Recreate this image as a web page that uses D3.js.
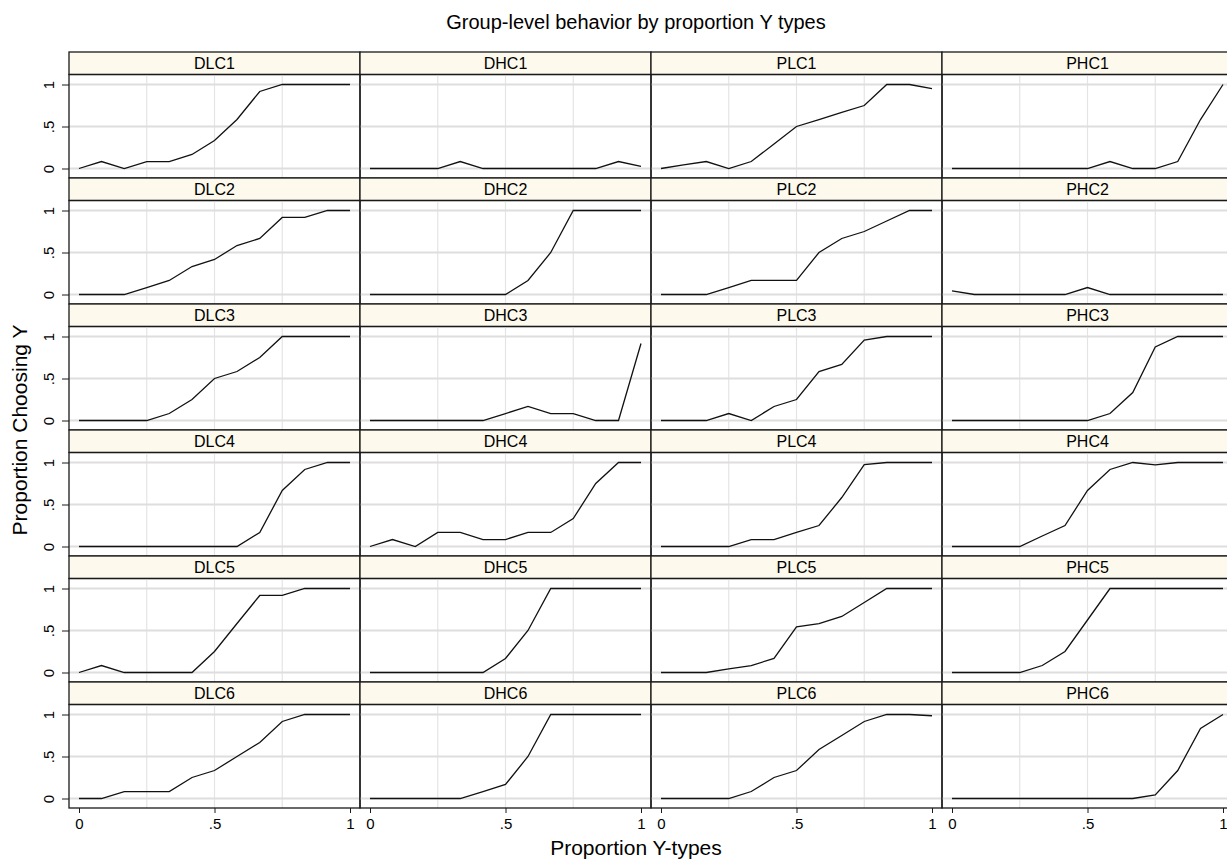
<!DOCTYPE html>
<html>
<head>
<meta charset="utf-8">
<script src="https://cdn.jsdelivr.net/npm/d3@7"></script>
<style>
  body { margin: 0; background: #fff; }
  text { font-family: "Liberation Sans", Arial, sans-serif; fill: #000; }
</style>
</head>
<body>
<div id="chart"></div>
<script>
// proportion of Y-types in the group (x axis)
const propY = [0, .083, .167, .25, .333, .417, .5, .583, .667, .75, .833, .917, 1]

const treatments = ["DLC", "DHC", "PLC", "PHC"]
const groups = [1, 2, 3, 4, 5, 6]

// proportion choosing Y, one array per panel
const DLC1 = [0, .083, 0, .083, .083, .167, .333, .583, .917, 1, 1, 1, 1]
const DHC1 = [0, 0, 0, 0, .083, 0, 0, 0, 0, 0, 0, .083, .025]
const PLC1 = [0, .042, .083, 0, .083, .292, .5, .583, .667, .75, 1, 1, .95]
const PHC1 = [0, 0, 0, 0, 0, 0, 0, .083, 0, 0, .083, .583, 1]

const DLC2 = [0, 0, 0, .083, .167, .333, .417, .583, .667, .917, .917, 1, 1]
const DHC2 = [0, 0, 0, 0, 0, 0, 0, .167, .5, 1, 1, 1, 1]
const PLC2 = [0, 0, 0, .083, .167, .167, .167, .5, .667, .75, .875, 1, 1]
const PHC2 = [.042, 0, 0, 0, 0, 0, .083, 0, 0, 0, 0, 0, 0]

const DLC3 = [0, 0, 0, 0, .083, .25, .5, .583, .75, 1, 1, 1, 1]
const DHC3 = [0, 0, 0, 0, 0, 0, .083, .167, .083, .083, 0, 0, .917]
const PLC3 = [0, 0, 0, .083, 0, .167, .25, .583, .667, .958, 1, 1, 1]
const PHC3 = [0, 0, 0, 0, 0, 0, 0, .083, .333, .875, 1, 1, 1]

const DLC4 = [0, 0, 0, 0, 0, 0, 0, 0, .167, .667, .917, 1, 1]
const DHC4 = [0, .083, 0, .167, .167, .083, .083, .167, .167, .333, .75, 1, 1]
const PLC4 = [0, 0, 0, 0, .083, .083, .167, .25, .583, .975, 1, 1, 1]
const PHC4 = [0, 0, 0, 0, .125, .25, .667, .917, 1, .972, 1, 1, 1]

const DLC5 = [0, .083, 0, 0, 0, 0, .25, .583, .917, .917, 1, 1, 1]
const DHC5 = [0, 0, 0, 0, 0, 0, .167, .5, 1, 1, 1, 1, 1]
const PLC5 = [0, 0, 0, .042, .083, .167, .542, .583, .667, .833, 1, 1, 1]
const PHC5 = [0, 0, 0, 0, .083, .25, .625, 1, 1, 1, 1, 1, 1]

const DLC6 = [0, 0, .083, .083, .083, .25, .333, .5, .667, .917, 1, 1, 1]
const DHC6 = [0, 0, 0, 0, 0, .083, .167, .5, 1, 1, 1, 1, 1]
const PLC6 = [0, 0, 0, 0, .083, .25, .333, .583, .75, .917, 1, 1, .985]
const PHC6 = [0, 0, 0, 0, 0, 0, 0, 0, 0, .042, .333, .833, 1]

const yTicks = [0, .5, 1]
const yTickLabels = ["0", ".5", "1"]
const xTicks = [0, .5, 1]
const xTickLabels = ["0", ".5", "1"]
const xGrid = [.25, .5, .75]

const series = {
    DLC1, DHC1, PLC1, PHC1, DLC2, DHC2, PLC2, PHC2,
    DLC3, DHC3, PLC3, PHC3, DLC4, DHC4, PLC4, PHC4,
    DLC5, DHC5, PLC5, PHC5, DLC6, DHC6, PLC6, PHC6,
}

function drawPanels() {
    let dimensions = {
        width: 1227,
        height: 859,
        left: 69,
        top: 52,
        panelWidth: 291,
        rowHeight: 126,
        stripHeight: 22.5,
    }
    dimensions.plotHeight = dimensions.rowHeight - dimensions.stripHeight

    const svg = d3.select("#chart").append("svg")
    svg.attr("width", dimensions.width)
    svg.attr("height", dimensions.height)

    let x = d3.scaleLinear()
    .domain([0, 1])
    .range([10, dimensions.panelWidth - 10])

    let y = d3.scaleLinear()
    .domain([0, 1])
    .range([dimensions.plotHeight - 9.5, 10])

    const line = d3.line()
    .x((d, i) => x(propY[i]))
    .y(d => y(d))

    groups.forEach((g, r) => {
        treatments.forEach((t, c) => {
            const panel = svg.append("g")
            .attr("transform", `translate(${dimensions.left + c * dimensions.panelWidth},${dimensions.top + r * dimensions.rowHeight})`)

            // strip with panel name
            panel.append("rect")
            .attr("width", dimensions.panelWidth)
            .attr("height", dimensions.stripHeight)
            .attr("fill", "#fdf9ec")
            .attr("stroke", "#1a1a1a")
            .attr("stroke-width", 1.3)

            panel.append("text")
            .attr("x", dimensions.panelWidth / 2)
            .attr("y", dimensions.stripHeight / 2 + 5.5)
            .attr("text-anchor", "middle")
            .style("font-size", "16px")
            .text(t + g)

            const plot = panel.append("g")
            .attr("transform", `translate(0,${dimensions.stripHeight})`)

            plot.selectAll(".vgrid")
            .data(xGrid)
            .join("line")
            .attr("x1", d => x(d)).attr("x2", d => x(d))
            .attr("y1", 0).attr("y2", dimensions.plotHeight)
            .attr("stroke", "#e4e4e4")
            .attr("stroke-width", 1.2)

            plot.selectAll(".hgrid")
            .data(yTicks)
            .join("line")
            .attr("x1", 0).attr("x2", dimensions.panelWidth)
            .attr("y1", d => y(d)).attr("y2", d => y(d))
            .attr("stroke", "#dedede")
            .attr("stroke-width", 1.8)

            plot.append("path")
            .datum(series[t + g])
            .attr("d", line)
            .attr("fill", "none")
            .attr("stroke", "#111")
            .attr("stroke-width", 1.3)

            plot.append("rect")
            .attr("width", dimensions.panelWidth)
            .attr("height", dimensions.plotHeight)
            .attr("fill", "none")
            .attr("stroke", "#1a1a1a")
            .attr("stroke-width", 1.3)

            if (c == 0) {
                const ya = plot.append("g")
                .call(d3.axisLeft(y).tickValues(yTicks).tickFormat((d, i) => yTickLabels[i]).tickSize(7))
                ya.select(".domain").remove()
                ya.selectAll("line").attr("stroke", "#1a1a1a")
                ya.selectAll("text")
                .attr("transform", "rotate(-90)")
                .attr("text-anchor", "middle")
                .attr("x", 0)
                .attr("y", -15)
                .attr("dy", 0)
                .style("font-size", "15px")
            }

            if (r == groups.length - 1) {
                const xa = plot.append("g")
                .attr("transform", `translate(0,${dimensions.plotHeight})`)
                .call(d3.axisBottom(x).tickValues(xTicks).tickFormat((d, i) => xTickLabels[i]).tickSize(5).tickPadding(5))
                xa.select(".domain").remove()
                xa.selectAll("line").attr("stroke", "#1a1a1a")
                xa.selectAll("text").style("font-size", "15px")
            }
        })
    })

    svg.append("text")
    .attr("x", 636)
    .attr("y", 29)
    .attr("text-anchor", "middle")
    .style("font-size", "20px")
    .text("Group-level behavior by proportion Y types")

    svg.append("text")
    .attr("x", 636)
    .attr("y", 855)
    .attr("text-anchor", "middle")
    .style("font-size", "21px")
    .text("Proportion Y-types")

    svg.append("text")
    .attr("transform", "translate(27,430) rotate(-90)")
    .attr("text-anchor", "middle")
    .style("font-size", "21px")
    .text("Proportion Choosing Y")
}

drawPanels()
</script>
</body>
</html>
